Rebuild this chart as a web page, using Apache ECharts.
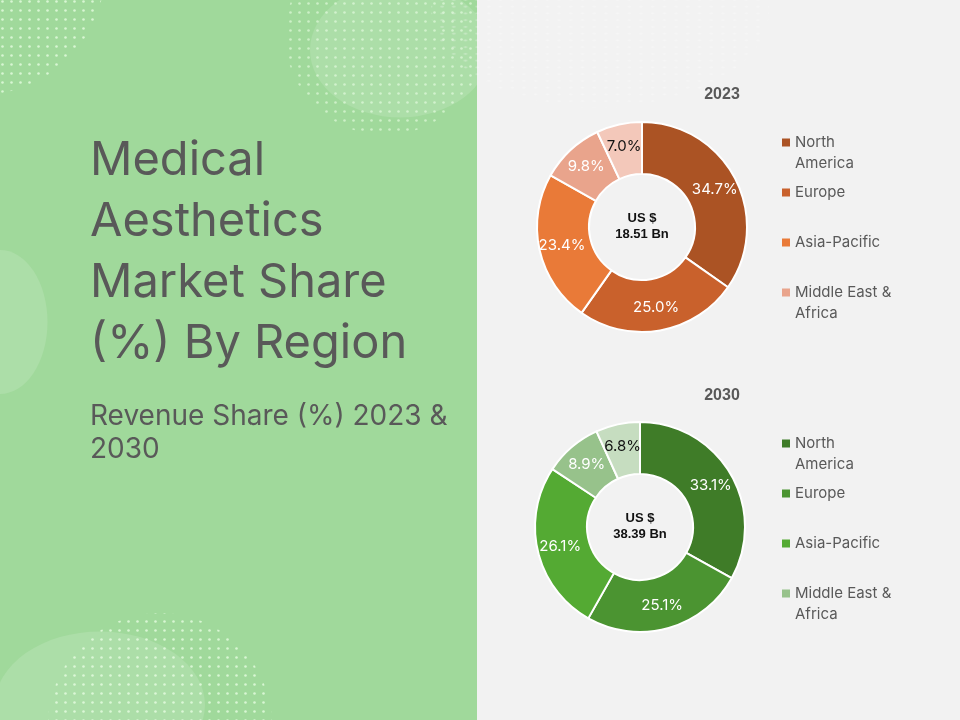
<!DOCTYPE html>
<html>
<head>
<meta charset="utf-8">
<script src="https://cdn.jsdelivr.net/npm/echarts@6/dist/echarts.min.js"></script>
<style>
  html, body { margin: 0; padding: 0; background: #f2f2f2; }
  #chart { width: 960px; height: 720px; }
</style>
</head>
<body>
<div id="chart"></div>
<script>
// data
const regions = ['North America', 'Europe', 'Asia-Pacific', 'Middle East & Africa', 'Latin America']
const legendRegions = ['North America', 'Europe', 'Asia-Pacific', 'Middle East & Africa']
const legendLines = [['North', 'America'], ['Europe', ''], ['Asia-Pacific', ''], ['Middle East &', 'Africa']]
const years = ['2023', '2030']
const share2023 = [34.7, 25.0, 23.4, 9.8, 7.0]
const share2030 = [33.1, 25.1, 26.1, 8.9, 6.8]
const totals = ['18.51', '38.39']

// colours
const colors2023 = ['#ab5324', '#c9612c', '#e97a38', '#e9a48c', '#f3c8ba']
const colors2030 = ['#3f7c28', '#4b9431', '#54aa33', '#97c28b', '#c6ddc0']
const labelColors = ['#ffffff', '#ffffff', '#ffffff', '#ffffff', '#111111']

const font = 'Inter, "Noto Sans", sans-serif'
const textGrey = '#595959'

function dotPattern (color, step, r) {
  const c = document.createElement('canvas')
  c.width = step
  c.height = step
  const ctx = c.getContext('2d')
  ctx.fillStyle = color
  ctx.beginPath()
  ctx.arc(step / 2, step / 2, r, 0, Math.PI * 2)
  ctx.fill()
  return { image: c, repeat: 'repeat' }
}

function makeLegend (top, cols) {
  const rich = {
    t: { fontSize: 15, lineHeight: 21, color: textGrey, fontFamily: font },
    g: { width: 5 },
    s: { width: 13 }
  }
  cols.forEach((c, i) => {
    rich['m' + i] = { width: 8, height: 8, backgroundColor: c }
  })
  return {
    orient: 'vertical',
    left: 776,
    top: top,
    padding: 0,
    itemGap: 14,
    itemWidth: 0,
    itemHeight: 0,
    icon: 'rect',
    selectedMode: false,
    data: legendRegions,
    formatter: (name) => {
      const i = regions.indexOf(name)
      const l = legendLines[i]
      return '{m' + i + '|}{g|}{t|' + l[0] + '}\n{s|}{t|' + (l[1] || ' ') + '}'
    },
    textStyle: { rich: rich }
  }
}

function makePie (name, center, values, cols) {
  return {
    name: name,
    type: 'pie',
    center: center,
    radius: [53, 105],
    startAngle: 90,
    avoidLabelOverlap: false,
    itemStyle: { borderColor: '#ffffff', borderWidth: 2 },
    label: {
      show: true,
      position: 'inside',
      fontSize: 15,
      fontFamily: font,
      formatter: (p) => p.value.toFixed(1) + '%'
    },
    labelLine: { show: false },
    emphasis: { disabled: true },
    data: values.map((v, i) => ({
      name: regions[i],
      value: v,
      itemStyle: { color: cols[i] },
      label: { color: labelColors[i] }
    }))
  }
}

const dotsGreen = dotPattern('rgba(235,255,230,0.75)', 9, 1.3)
const dotsGrey = dotPattern('rgba(255,255,255,0.9)', 9, 1.3)
const blobLight = 'rgba(255,255,255,0.13)'

const myChart = echarts.init(document.getElementById('chart'))
const option = {
  animation: false,
  backgroundColor: '#f2f2f2',
  graphic: [
    { type: 'rect', z: -20, shape: { x: 0, y: 0, width: 477, height: 720 }, style: { fill: '#a0d99b' } },
    // soft blobs on the green panel
    { type: 'circle', z: -19, x: 400, y: 50, scaleX: 1, scaleY: 0.75, shape: { cx: 0, cy: 0, r: 90 }, style: { fill: blobLight } },
    { type: 'circle', z: -19, x: 0, y: 322, scaleX: 0.66, scaleY: 1, shape: { cx: 0, cy: 0, r: 72 }, style: { fill: blobLight } },
    { type: 'circle', z: -19, x: 100, y: 705, scaleX: 1, scaleY: 0.7, shape: { cx: 0, cy: 0, r: 105 }, style: { fill: blobLight } },
    // dotted areas
    { type: 'circle', z: -18, x: 385, y: 35, shape: { cx: 0, cy: 0, r: 100 }, style: { fill: dotsGreen, opacity: 0.8 } },
    { type: 'circle', z: -18, x: -20, y: -30, shape: { cx: 0, cy: 0, r: 125 }, style: { fill: dotsGreen } },
    { type: 'circle', z: -18, x: 160, y: 725, shape: { cx: 0, cy: 0, r: 112 }, style: { fill: dotsGreen } },
    { type: 'rect', z: -17, shape: { x: 477, y: 0, width: 483, height: 720 }, style: { fill: '#f2f2f2' } },
    { type: 'circle', z: -16, x: 600, y: 10, scaleX: 1.3, scaleY: 0.75, shape: { cx: 0, cy: 0, r: 130 }, style: { fill: dotsGrey, opacity: 0.35 } },
    // headline
    {
      type: 'text', left: 90, top: 130,
      style: { text: 'Medical\nAesthetics\nMarket Share\n(%) By Region', fontSize: 47, lineHeight: 61, fontFamily: font, fill: textGrey }
    },
    {
      type: 'text', left: 90, top: 400,
      style: { text: 'Revenue Share (%) 2023 &\n2030', fontSize: 28, lineHeight: 33, fontFamily: font, fill: textGrey }
    },
    // pie titles and centre values
    { type: 'text', x: 722, y: 95, style: { text: years[0], align: 'center', verticalAlign: 'middle', fontSize: 16, fontWeight: 'bold', fontFamily: 'Liberation Sans, Arial', fill: textGrey } },
    { type: 'text', x: 722, y: 396, style: { text: years[1], align: 'center', verticalAlign: 'middle', fontSize: 16, fontWeight: 'bold', fontFamily: 'Liberation Sans, Arial', fill: textGrey } },
    { type: 'text', z: 10, x: 642, y: 226, style: { text: 'US $\n' + totals[0] + ' Bn', align: 'center', verticalAlign: 'middle', fontSize: 13, lineHeight: 16, fontWeight: 'bold', fontFamily: 'Liberation Sans, Arial', fill: '#111' } },
    { type: 'text', z: 10, x: 640, y: 526, style: { text: 'US $\n' + totals[1] + ' Bn', align: 'center', verticalAlign: 'middle', fontSize: 13, lineHeight: 16, fontWeight: 'bold', fontFamily: 'Liberation Sans, Arial', fill: '#111' } }
  ],
  legend: [
    makeLegend(135, colors2023),
    makeLegend(436, colors2030)
  ],
  series: [
    makePie(years[0], [642, 227], share2023, colors2023),
    makePie(years[1], [640, 527], share2030, colors2030)
  ]
}
myChart.setOption(option)
</script>
</body>
</html>
